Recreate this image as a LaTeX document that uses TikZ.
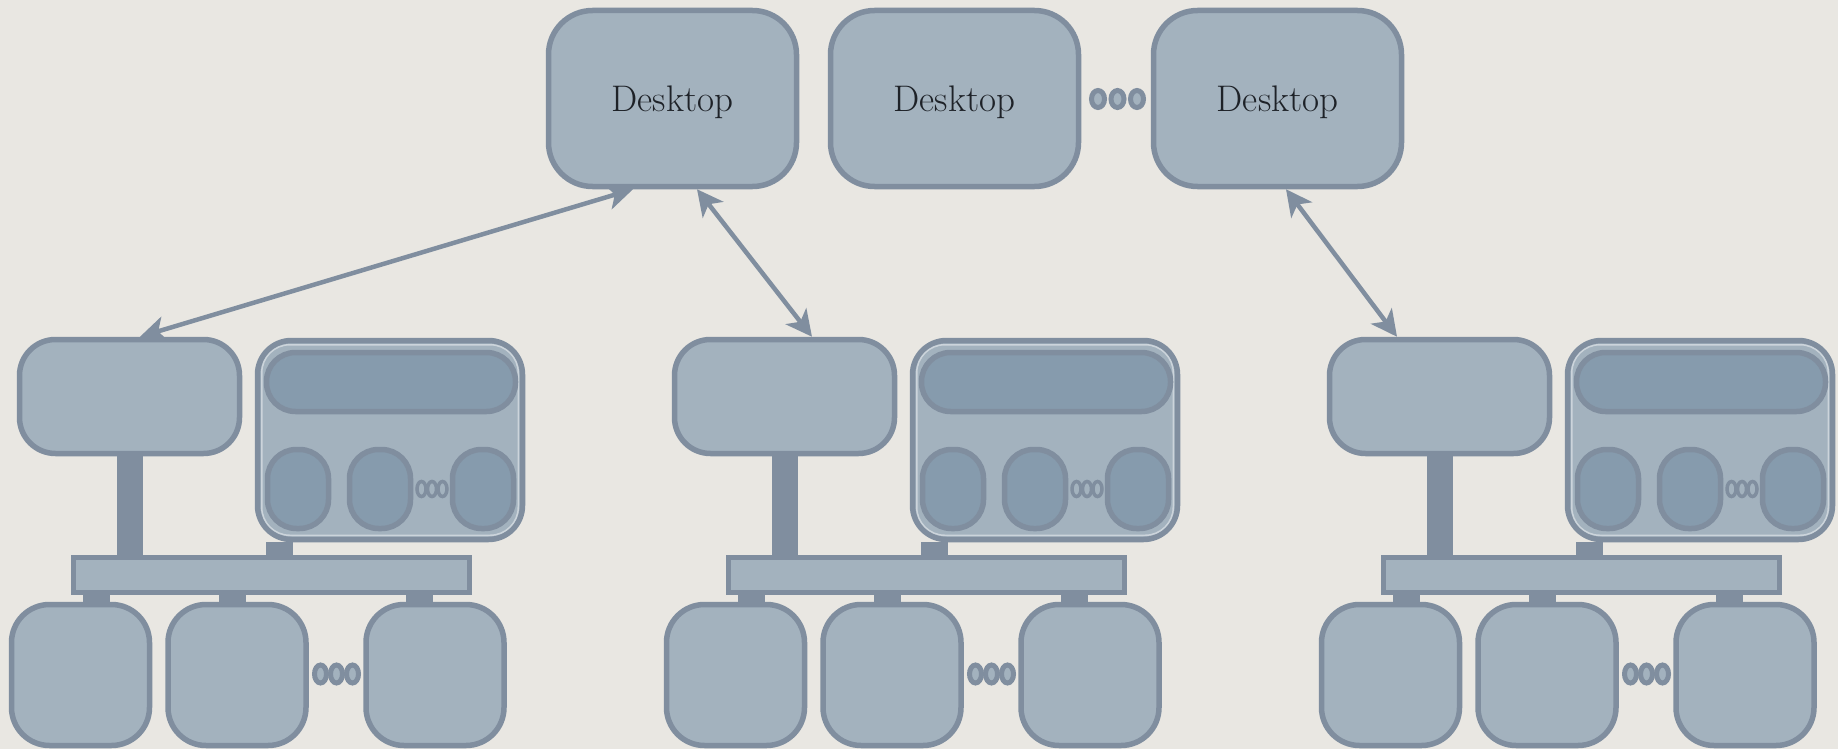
\documentclass[tikz,border=0pt]{standalone}
\usetikzlibrary{arrows.meta,calc}

\definecolor{paper}{RGB}{233,231,226}
\definecolor{slatefill}{RGB}{163,178,190}
\definecolor{slateedge}{RGB}{128,142,159}
\definecolor{slatedeep}{RGB}{134,155,173}
\definecolor{inktext}{RGB}{30,34,40}

\tikzset{
  panel/.style={draw=slateedge, line width=5.5pt, fill=slatefill, inner sep=0pt},
  deskbox/.style={panel, minimum width=248pt, minimum height=176pt, rounded corners=44pt,
    text=inktext, font=\fontsize{37}{42}\selectfont, text height=27pt, text depth=0pt},
  clientbox/.style={panel, minimum width=220pt, minimum height=114pt, rounded corners=36pt},
  holder/.style={panel, minimum width=265pt, minimum height=199pt, rounded corners=34pt},
  slotbar/.style={panel, fill=slatedeep, minimum width=249pt, minimum height=59pt, rounded corners=29pt},
  slotpod/.style={panel, fill=slatedeep, minimum width=61pt, minimum height=79pt, rounded corners=29pt},
  busbar/.style={panel, minimum width=396pt, minimum height=35pt},
  unitbox/.style={panel, minimum width=138pt, minimum height=141pt, rounded corners=38pt},
  stem/.style={draw=slateedge, line width=#1},
  stem/.default=27pt,
  conn/.style={draw=slateedge, line width=4.5pt,
    {Stealth[length=26pt,width=26pt,inset=7pt]}-{Stealth[length=26pt,width=26pt,inset=7pt]}},
  dotring/.style={draw=slateedge, line width=5pt, fill=slatefill},
  dotsmall/.style={draw=slateedge, line width=3.5pt, fill=slatefill},
  glint/.style={draw=white, opacity=.45, line width=1.5pt},
}

\begin{document}
\begin{tikzpicture}[x=1pt,y=-1pt]
  % page
  \fill[paper] (0,0) rectangle (1838,749);
  \useasboundingbox (0,0) rectangle (1838,749);

  % desktops along the top
  \node[deskbox] (d1) at (672.5,98.5) {Desktop};
  \node[deskbox] (d2) at (954.5,98.5) {Desktop};
  \node[deskbox] (d3) at (1277.5,98.5) {Desktop};
  \foreach \cx in {1098,1117.5,1137}
    \draw[dotring] (\cx,99) ellipse [x radius=6.5pt, y radius=8.5pt];

  % three identical machines
  \foreach \g/\dx in {1/0, 2/655, 3/1310} {
    \begin{scope}[xshift=\dx pt]
      \node[clientbox] (c\g) at (129.5,396.5) {};
      \node[holder] (k\g) at (390,440) {};
      \draw[glint, rounded corners=28pt]
        ($(k\g.north west)+(7,7)$) rectangle ($(k\g.south east)+(-7,-7)$);
      \node[slotbar] (s\g) at (391,382) {};
      \node[slotpod] (p\g1) at (298,489) {};
      \node[slotpod] (p\g2) at (380,489) {};
      \node[slotpod] (p\g3) at (483,489) {};
      \foreach \cx in {421.5,432,442.5}
        \draw[dotsmall] (\cx,489) ellipse [x radius=4.5pt, y radius=7.5pt];

      \node[busbar] (b\g) at (271.5,575) {};
      \node[unitbox] (u\g1) at (80.5,675) {};
      \node[unitbox] (u\g2) at (237,675) {};
      \node[unitbox] (u\g3) at (435,675) {};
      \foreach \cx in {320.5,336.5,352.5}
        \draw[dotring] (\cx,674) ellipse [x radius=6pt, y radius=9pt];

      % links onto the bus
      \draw[stem=26pt] (c\g.south) -- (c\g.south |- b\g.north);
      \draw[stem] ([xshift=24.5pt]k\g.south west) -- ([xshift=24.5pt]k\g.south west |- b\g.north);
      \draw[stem] ([xshift=25.5pt]b\g.south west) -- ([xshift=25.5pt]b\g.south west |- u\g1.north);
      \draw[stem] ([xshift=161.5pt]b\g.south west) -- ([xshift=161.5pt]b\g.south west |- u\g2.north);
      \draw[stem] ([xshift=348.5pt]b\g.south west) -- ([xshift=348.5pt]b\g.south west |- u\g3.north);
    \end{scope}
  }

  % desktop <-> machine links
  \draw[conn] ([xshift=-39.5pt]d1.south) -- ([xshift=10.5pt]c1.north);
  \draw[conn] ([xshift=24.5pt]d1.south) -- ([xshift=27.5pt]c2.north);
  \draw[conn] ([xshift=8.5pt]d3.south) -- ([xshift=-42.5pt]c3.north);
\end{tikzpicture}
\end{document}
